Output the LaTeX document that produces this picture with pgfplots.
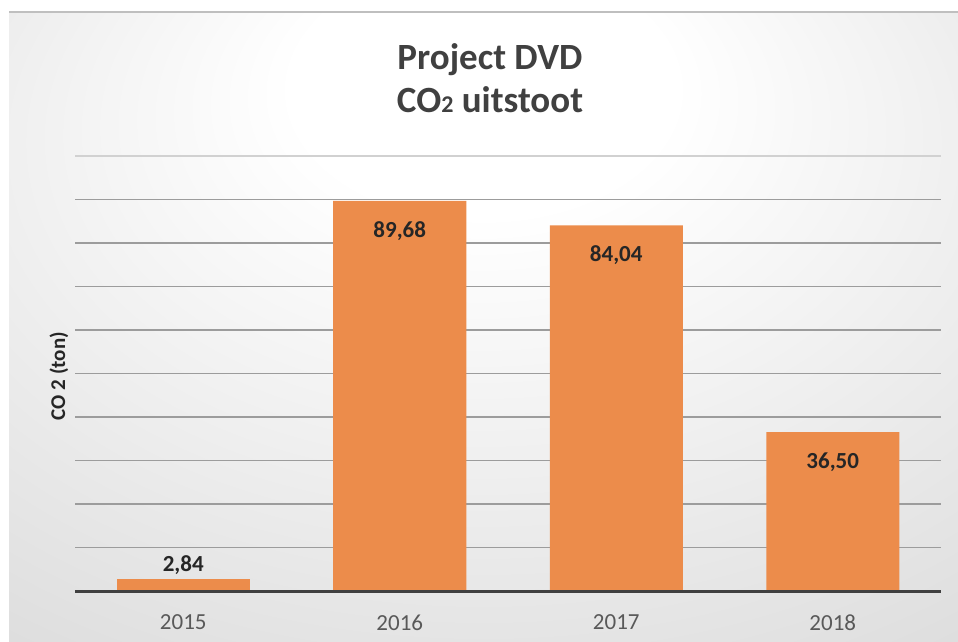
\documentclass[border=0pt]{standalone}
\usepackage{pgfplots}
\pgfplotsset{compat=1.18}
\usepackage{fontspec}
\setmainfont{Carlito}
\definecolor{barc}{HTML}{EC8C4B}
\definecolor{gridc}{HTML}{9C9C9C}
\definecolor{titlec}{HTML}{404040}
\definecolor{tickc}{HTML}{595959}
\definecolor{labc}{HTML}{262626}
\definecolor{bgmid}{HTML}{DADADA}
\definecolor{bgedge}{HTML}{C6C6C6}
\pgfdeclareradialshading{bgshade}{\pgfpoint{0bp}{22bp}}{color(0bp)=(white); color(10bp)=(white); color(46bp)=(bgmid); color(72bp)=(bgedge)}
\begin{document}
\begin{tikzpicture}
\path[use as bounding box, fill=white] (0,0) rectangle (479bp,321bp);
\shade[shading=bgshade] (4.5bp,0) rectangle (479bp,315bp);
\draw[black!25, line width=0.6bp] (4.5bp,315bp) -- (479bp,315bp);
\node[font=\fontsize{18.5bp}{22bp}\selectfont\bfseries, text=titlec, anchor=base] at (245bp,286bp) {Project DVD};
\node[font=\fontsize{18.5bp}{22bp}\selectfont\bfseries, text=titlec, anchor=base] at (245bp,264.5bp) {CO{\fontsize{12bp}{14bp}\selectfont 2} uitstoot};
\node[font=\fontsize{10.5bp}{12bp}\selectfont\bfseries, text=labc, rotate=90] at (29.5bp,133bp) {CO 2 (ton)};
\begin{axis}[
  at={(37.5bp,25.5bp)}, anchor=south west,
  width=433bp, height=217.5bp, scale only axis,
  xmin=-0.5, xmax=3.5, ymin=0, ymax=100,
  xtick={0,1,2,3}, xticklabels={2015,2016,2017,2018},
  ytick={0,10,...,90}, yticklabels={},
  extra y ticks={100}, extra y tick labels={},
  extra y tick style={grid style={black!18, line width=0.6bp}},
  ymajorgrids, grid style={gridc, line width=0.6bp},
  axis line style={draw=none}, tick style={draw=none},
  major tick length=0pt,
  xticklabel style={font=\fontsize{11.5bp}{13bp}\selectfont, text=tickc, yshift=-8.5bp},
  ybar, bar width=66.5bp,
  clip=false,
]
\addplot[fill=barc, draw=none, bar shift=0pt,
  nodes near coords={\pgfmathprintnumber[assume math mode=true,fixed,fixed zerofill,precision=2,use comma]{\pgfplotspointmeta}},
  every node near coord/.append style={font=\fontsize{11.5bp}{13bp}\selectfont\bfseries, text=labc, anchor=center, yshift=-15bp}]
  coordinates {(1,89.68) (2,84.04) (3,36.50)};
\addplot[fill=barc, draw=none, bar shift=0pt,
  nodes near coords={\pgfmathprintnumber[assume math mode=true,fixed,fixed zerofill,precision=2,use comma]{\pgfplotspointmeta}},
  every node near coord/.append style={font=\fontsize{11.5bp}{13bp}\selectfont\bfseries, text=labc, anchor=center, yshift=7bp}]
  coordinates {(0,2.84)};
\draw[titlec, line width=1.5bp] (axis cs:-0.5,0) -- (axis cs:3.5,0);
\end{axis}
\end{tikzpicture}
\end{document}
